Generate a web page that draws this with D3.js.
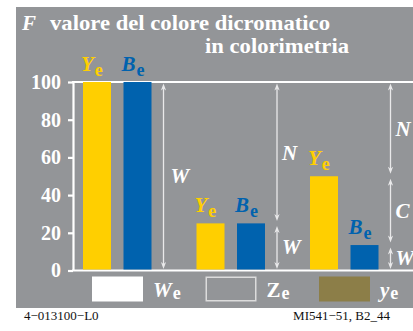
<!DOCTYPE html>
<html>
<head>
<meta charset="utf-8">
<script src="https://cdn.jsdelivr.net/npm/d3@7"></script>
<style>
  html, body { margin: 0; padding: 0; background: #fff; }
  svg { display: block; }
  text { font-family: "Liberation Serif", "Times New Roman", serif; }
</style>
</head>
<body>
<svg id="chart" width="413" height="331"></svg>
<script>
// Three cases of dichromatic colour value: white, grey, coloured sample
const groups = ["bianco", "grigio", "colorato"];
const series = ["Ye", "Be"];
const yellowValues = [100, 25, 50];
const blueValues = [100, 25, 13.5];
const yTicks = [0, 20, 40, 60, 80, 100];

// Bracket segments (from, to, label) beside each group
const segments = [
  [[0, 100, "W"]],
  [[0, 25, "W"], [25, 100, "N"]],
  [[0, 13.5, "W"], [13.5, 50, "C"], [50, 100, "N"]]
];

const legendItems = [
  { main: "W", sub: "e", italic: true },
  { main: "Z", sub: "e", italic: false },
  { main: "y", sub: "e", italic: true }
];

const colors = {
  bg: "#939598",
  Ye: "#ffcf00",
  Be: "#0062ae",
  white: "#ffffff",
  arrow: "#e9e9ea",
  olive: "#8c7e48"
};

const svg = d3.select("#chart");

// panel background
svg.append("rect")
  .attr("x", 16).attr("y", 7)
  .attr("width", 397).attr("height", 301)
  .attr("fill", colors.bg);

// title
svg.append("text")
  .attr("x", 22).attr("y", 30)
  .attr("fill", "#fff")
  .attr("font-size", 21)
  .attr("font-weight", "bold")
  .attr("font-style", "italic")
  .text("F");
svg.append("text")
  .attr("x", 50).attr("y", 30)
  .attr("fill", "#fff")
  .attr("font-size", 21)
  .attr("font-weight", "bold")
  .attr("textLength", 280)
  .attr("lengthAdjust", "spacingAndGlyphs")
  .text("valore del colore dicromatico");
svg.append("text")
  .attr("x", 205).attr("y", 53)
  .attr("fill", "#fff")
  .attr("font-size", 21)
  .attr("font-weight", "bold")
  .attr("textLength", 144)
  .attr("lengthAdjust", "spacingAndGlyphs")
  .text("in colorimetria");

// scales
const y = d3.scaleLinear().domain([0, 100]).range([270.5, 82]);
const xGroup = d3.scaleBand().domain(groups).range([83, 83 + 113.5 * 3]);
const xSeries = d3.scaleBand().domain(series).range([0, 68.5])
  .paddingInner(0.3086).paddingOuter(0);

// y axis
const axisG = svg.append("g")
  .attr("transform", "translate(73,0)")
  .call(d3.axisLeft(y).tickValues(yTicks).tickSize(5).tickSizeOuter(0).tickPadding(7));
axisG.select(".domain").attr("stroke", "#fff").attr("stroke-width", 2.2);
axisG.selectAll(".tick line").attr("stroke", "#fff").attr("stroke-width", 2.2);
axisG.selectAll(".tick text")
  .attr("fill", "#fff")
  .attr("font-size", 20)
  .attr("font-weight", "bold")
  .attr("font-family", "\"Liberation Serif\", \"Times New Roman\", serif");

// frame lines at top and bottom
[100, 0].forEach(v => {
  svg.append("line")
    .attr("x1", 72).attr("x2", 413)
    .attr("y1", y(v)).attr("y2", y(v))
    .attr("stroke", "#fff").attr("stroke-width", 2.2);
});

// bars
const barData = [];
groups.forEach((g, i) => {
  barData.push({ g, s: "Ye", v: yellowValues[i] });
  barData.push({ g, s: "Be", v: blueValues[i] });
});

svg.append("g").selectAll("rect")
  .data(barData)
  .join("rect")
  .attr("x", d => xGroup(d.g) + xSeries(d.s))
  .attr("y", d => y(d.v))
  .attr("width", xSeries.bandwidth())
  .attr("height", d => y(0) - y(d.v) - 1)
  .attr("fill", d => colors[d.s]);

// bar labels: italic letter with upright subscript
const labelG = svg.append("g");
barData.forEach(d => {
  const t = labelG.append("text")
    .attr("x", xGroup(d.g) + xSeries(d.s) - 2)
    .attr("y", y(d.v) - 11)
    .attr("fill", colors[d.s])
    .attr("font-size", 21)
    .attr("font-weight", "bold");
  t.append("tspan").attr("font-style", "italic").text(d.s[0]);
  t.append("tspan").attr("font-size", 18).attr("dy", 5).attr("dx", 1).text(d.s[1]);
});

// bracket arrows
function arrowHead(g, x, tipY, dir) {
  // dir = 1 points down, -1 points up
  const len = 7, hw = 2.6;
  g.append("path")
    .attr("d", `M${x},${tipY} L${x - hw},${tipY - dir * len} L${x},${tipY - dir * (len - 2)} L${x + hw},${tipY - dir * len} Z`)
    .attr("fill", colors.arrow);
}

const arrowG = svg.append("g");
groups.forEach((g, i) => {
  const ax = xGroup(g) + 80.5;
  segments[i].forEach(([lo, hi, lab]) => {
    const yTop = y(hi) + (hi === 100 ? 1.5 : 2.5);
    const yBot = y(lo) - (lo === 0 ? 1.5 : 2.5);
    arrowG.append("line")
      .attr("x1", ax).attr("x2", ax)
      .attr("y1", yTop + 3).attr("y2", yBot - 3)
      .attr("stroke", colors.arrow).attr("stroke-width", 1.3);
    arrowHead(arrowG, ax, yTop, -1);
    arrowHead(arrowG, ax, yBot, 1);
    arrowG.append("text")
      .attr("x", ax + (i === 0 ? 7 : 5))
      .attr("y", (y(lo) + y(hi)) / 2 + 7)
      .attr("fill", "#fff")
      .attr("font-size", 21)
      .attr("font-weight", "bold")
      .attr("font-style", "italic")
      .text(lab);
  });
});

// legend
const legendX = d3.scalePoint().domain(legendItems.map(d => d.main)).range([92, 319]);
const legG = svg.append("g");
legendItems.forEach((d, i) => {
  const lx = legendX(d.main);
  const r = legG.append("rect")
    .attr("x", lx).attr("y", 276.5)
    .attr("width", 51).attr("height", 25);
  if (i === 0) r.attr("fill", colors.white);
  else if (i === 1) r.attr("fill", "none").attr("stroke", "#dcdcdc").attr("stroke-width", 1.5)
    .attr("x", lx + 0.75).attr("y", 277.25).attr("width", 49.5).attr("height", 23.5);
  else r.attr("fill", colors.olive);
  const t = legG.append("text")
    .attr("x", lx + 61)
    .attr("y", 297)
    .attr("fill", "#fff")
    .attr("font-size", 21)
    .attr("font-weight", "bold");
  t.append("tspan").attr("font-style", d.italic ? "italic" : "normal").text(d.main);
  t.append("tspan").attr("font-size", 18).attr("dy", 2).attr("dx", 1).text(d.sub);
});

// footer codes
svg.append("text")
  .attr("x", 24).attr("y", 320)
  .attr("font-size", 13).attr("fill", "#111")
  .text("4\u2212013100\u2212L0");
svg.append("text")
  .attr("x", 390).attr("y", 320)
  .attr("text-anchor", "end")
  .attr("font-size", 13).attr("fill", "#111")
  .text("MI541\u221251, B2_44");
</script>
</body>
</html>
